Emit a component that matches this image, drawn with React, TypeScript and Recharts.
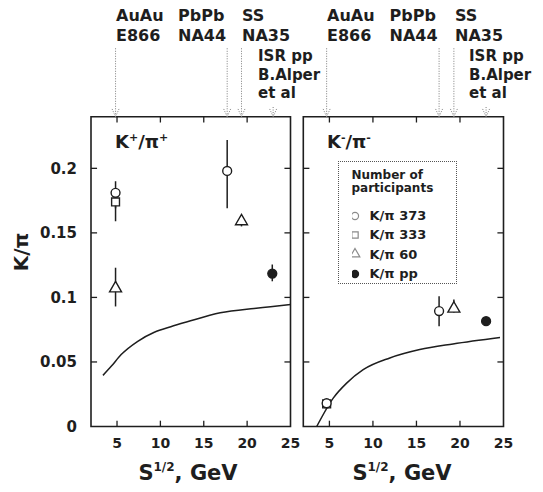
import React from 'react';
import {
  ComposedChart,
  Line,
  Scatter,
  XAxis,
  YAxis,
  ZAxis,
  ErrorBar,
  ReferenceLine,
  ReferenceArea,
  Legend,
  Symbols,
} from 'recharts';

// ---- axes ----
const X_DOMAIN: [number, number] = [2, 25];
const Y_DOMAIN: [number, number] = [0, 0.24];
const X_TICKS = [5, 10, 15, 20, 25];
const Y_TICKS = [0, 0.05, 0.1, 0.15, 0.2];

// ---- K+/pi+ measurements (x = sqrt(s) in GeV, err = [down, up]) ----
const kPlus373 = [
  { x: 4.83, y: 0.181, err: [0.012, 0.009] },
  { x: 17.7, y: 0.198, err: [0.029, 0.024] },
];
const kPlus333 = [{ x: 4.83, y: 0.174, err: [0.015, 0.008] }];
const kPlus60 = [
  { x: 4.83, y: 0.107, err: [0.014, 0.016] },
  { x: 19.35, y: 0.159, err: [0.004, 0.004] },
];
const kPlusPP = [{ x: 22.9, y: 0.1185, err: [0.006, 0.007] }];
const kPlusModel = [
  { x: 3.38, y: 0.0396 },
  { x: 4.33, y: 0.0466 },
  { x: 5.48, y: 0.0557 },
  { x: 7.39, y: 0.066 },
  { x: 9.3, y: 0.073 },
  { x: 11.2, y: 0.0773 },
  { x: 13.1, y: 0.0811 },
  { x: 16.9, y: 0.0881 },
  { x: 20.8, y: 0.0915 },
  { x: 22.7, y: 0.0928 },
  { x: 25, y: 0.0946 },
];

// ---- K-/pi- measurements ----
const kMinus373 = [
  { x: 4.68, y: 0.018, err: [0.003, 0.003] },
  { x: 17.6, y: 0.0894, err: [0.0117, 0.0116] },
];
const kMinus333 = [{ x: 4.68, y: 0.0175, err: [0.003, 0.003] }];
const kMinus60 = [{ x: 19.3, y: 0.0913, err: [0.003, 0.007] }];
const kMinusPP = [{ x: 23.0, y: 0.0816, err: [0.002, 0.002] }];
const kMinusModel = [
  { x: 3.54, y: 0.0 },
  { x: 5.44, y: 0.022 },
  { x: 6.98, y: 0.0336 },
  { x: 8.88, y: 0.044 },
  { x: 11.94, y: 0.0531 },
  { x: 15.38, y: 0.0596 },
  { x: 19.2, y: 0.064 },
  { x: 24.6, y: 0.069 },
];

// ---- experiments marked above each panel (sqrt(s) of each arrow) ----
const kPlusExperiments = [4.83, 17.7, 19.35];
const kPlusIsr = 23.0;
const kMinusExperiments = [4.68, 17.6, 19.3];
const kMinusIsr = 23.0;

const SERIES_NAMES = ['K/π 373', 'K/π 333', 'K/π 60', 'K/π pp'];

const FONT = "'DejaVu Sans', 'Liberation Sans', sans-serif";
const INK = '#1e1e1e';
const ARROW_INK = '#7d7d7d';

// arrow extents above the frame, in value units of the y scale
const ARROW_TOP = 0.293;
const ISR_ARROW_TOP = 0.2475;
const HEAD_DX = 0.4;
const HEAD_DY = 0.006;
// inner tick lengths
const TICK_DX = 0.7;
const TICK_DY = 0.0045;

type Pt = { x: number; y: number; err?: number[] };

const legendContent = (props: any) => {
  const items = (props.payload || [])
    .filter((e: any) => e.type !== 'none')
    .slice()
    .sort((a: any, b: any) => SERIES_NAMES.indexOf(a.value) - SERIES_NAMES.indexOf(b.value));
  return (
    <div
      style={{
        boxSizing: 'border-box',
        width: 119,
        height: 123,
        border: '1px dotted #555',
        background: '#fff',
        fontFamily: FONT,
        fontWeight: 'bold',
        color: INK,
        paddingTop: 7,
        paddingLeft: 13,
      }}
    >
      <div style={{ fontSize: 12, lineHeight: '13px', marginBottom: 11 }}>
        Number of
        <br />
        participants
      </div>
      {items.map((e: any) => (
        <div
          key={e.value}
          style={{ display: 'flex', alignItems: 'center', height: 19.3, fontSize: 13 }}
        >
          <svg width={17} height={14} style={{ marginRight: 1 }}>
            <Symbols
              cx={3}
              cy={7}
              type={e.type}
              size={40}
              fill={e.color}
              stroke={e.color === '#fff' ? '#8a8a8a' : e.color}
              strokeWidth={1.2}
            />
          </svg>
          <span>{e.value}</span>
        </div>
      ))}
    </div>
  );
};

function panelChart(opts: {
  width: number;
  margin: { top: number; right: number; bottom: number; left: number };
  showY: boolean;
  s373: Pt[];
  s333: Pt[];
  s60: Pt[];
  sPP: Pt[];
  model: Pt[];
  experiments: number[];
  isr: number;
  legend: boolean;
}) {
  const innerY = Y_TICKS.filter((t) => t > 0);
  const innerX = X_TICKS.filter((t) => t < X_DOMAIN[1]);
  const arrows = [
    ...opts.experiments.map((x) => ({ x, top: ARROW_TOP })),
    { x: opts.isr, top: ISR_ARROW_TOP },
  ];
  const tickStyle = { fontFamily: FONT, fontSize: 14, fontWeight: 'bold', fill: INK };
  const errProps = { dataKey: 'err', direction: 'y' as const, width: 0, stroke: INK, strokeWidth: 1.5 };

  return (
    <ComposedChart width={opts.width} height={492} margin={opts.margin}>
      <XAxis
        type="number"
        dataKey="x"
        domain={X_DOMAIN}
        ticks={X_TICKS}
        interval={0}
        allowDataOverflow
        tickLine={false}
        axisLine={false}
        tickMargin={6}
        height={30}
        tick={tickStyle}
      />
      {opts.showY ? (
        <YAxis
          type="number"
          domain={Y_DOMAIN}
          ticks={Y_TICKS}
          interval={0}
          allowDataOverflow
          tickLine={false}
          axisLine={false}
          tickMargin={8}
          width={50}
          tickFormatter={(v: number) => String(v)}
          tick={{ ...tickStyle, fontSize: 15 }}
        />
      ) : (
        <YAxis hide type="number" domain={Y_DOMAIN} allowDataOverflow />
      )}
      <ZAxis type="number" range={[62, 62]} />

      {/* plot frame */}
      <ReferenceArea
        x1={X_DOMAIN[0]}
        x2={X_DOMAIN[1]}
        y1={Y_DOMAIN[0]}
        y2={Y_DOMAIN[1]}
        fill="none"
        stroke={INK}
        strokeWidth={1.6}
        ifOverflow="visible"
      />

      {/* inward ticks on all four sides */}
      {innerX.map((t) => (
        <ReferenceLine
          key={'xb' + t}
          segment={[{ x: t, y: Y_DOMAIN[0] }, { x: t, y: Y_DOMAIN[0] + TICK_DY }]}
          stroke={INK}
          strokeWidth={1.3}
          ifOverflow="visible"
        />
      ))}
      {innerX.map((t) => (
        <ReferenceLine
          key={'xt' + t}
          segment={[{ x: t, y: Y_DOMAIN[1] }, { x: t, y: Y_DOMAIN[1] - TICK_DY }]}
          stroke={INK}
          strokeWidth={1.3}
          ifOverflow="visible"
        />
      ))}
      {innerY.map((t) => (
        <ReferenceLine
          key={'yl' + t}
          segment={[{ x: X_DOMAIN[0], y: t }, { x: X_DOMAIN[0] + TICK_DX, y: t }]}
          stroke={INK}
          strokeWidth={1.3}
          ifOverflow="visible"
        />
      ))}
      {innerY.map((t) => (
        <ReferenceLine
          key={'yr' + t}
          segment={[{ x: X_DOMAIN[1] - TICK_DX, y: t }, { x: X_DOMAIN[1], y: t }]}
          stroke={INK}
          strokeWidth={1.3}
          ifOverflow="visible"
        />
      ))}

      {/* dotted arrows pointing at each experiment's energy */}
      {arrows.map((a) => (
        <ReferenceLine
          key={'a' + a.x}
          segment={[{ x: a.x, y: a.top }, { x: a.x, y: Y_DOMAIN[1] }]}
          stroke={ARROW_INK}
          strokeWidth={1}
          strokeDasharray="1 1.5"
          ifOverflow="visible"
        />
      ))}
      {arrows.map((a) => (
        <ReferenceLine
          key={'hl' + a.x}
          segment={[{ x: a.x - HEAD_DX, y: Y_DOMAIN[1] + HEAD_DY }, { x: a.x, y: Y_DOMAIN[1] }]}
          stroke={ARROW_INK}
          strokeWidth={1}
          strokeDasharray="1 1.5"
          ifOverflow="visible"
        />
      ))}
      {arrows.map((a) => (
        <ReferenceLine
          key={'hr' + a.x}
          segment={[{ x: a.x + HEAD_DX, y: Y_DOMAIN[1] + HEAD_DY }, { x: a.x, y: Y_DOMAIN[1] }]}
          stroke={ARROW_INK}
          strokeWidth={1}
          strokeDasharray="1 1.5"
          ifOverflow="visible"
        />
      ))}

      <Line
        data={opts.model}
        dataKey="y"
        type="monotone"
        stroke={INK}
        strokeWidth={1.5}
        dot={false}
        legendType="none"
        isAnimationActive={false}
      />

      <Scatter
        name={SERIES_NAMES[1]}
        data={opts.s333}
        dataKey="y"
        shape="square"
        legendType="square"
        fill="#fff"
        stroke={INK}
        strokeWidth={1.4}
        isAnimationActive={false}
      >
        <ErrorBar {...errProps} />
      </Scatter>
      <Scatter
        name={SERIES_NAMES[0]}
        data={opts.s373}
        dataKey="y"
        shape="circle"
        legendType="circle"
        fill="#fff"
        stroke={INK}
        strokeWidth={1.4}
        isAnimationActive={false}
      >
        <ErrorBar {...errProps} />
      </Scatter>
      <Scatter
        name={SERIES_NAMES[2]}
        data={opts.s60}
        dataKey="y"
        shape="triangle"
        legendType="triangle"
        fill="#fff"
        stroke={INK}
        strokeWidth={1.4}
        isAnimationActive={false}
      >
        <ErrorBar {...errProps} />
      </Scatter>
      <Scatter
        name={SERIES_NAMES[3]}
        data={opts.sPP}
        dataKey="y"
        shape="circle"
        legendType="circle"
        fill={INK}
        stroke={INK}
        strokeWidth={1.4}
        isAnimationActive={false}
      >
        <ErrorBar {...errProps} />
      </Scatter>

      {opts.legend && (
        <Legend
          layout="vertical"
          align="center"
          verticalAlign="middle"
          content={legendContent}
          wrapperStyle={{ left: 40.5, top: 161, width: 119, height: 123 }}
        />
      )}
    </ComposedChart>
  );
}

const labelStyle = { fontFamily: FONT, fontWeight: 'bold' as const, fill: INK };

function ExperimentLabels({ xs }: { xs: [number, number, number, number] }) {
  return (
    <g style={labelStyle} fontSize={16}>
      <text x={xs[0]} y={21}>AuAu</text>
      <text x={xs[0]} y={40.5}>E866</text>
      <text x={xs[1]} y={21}>PbPb</text>
      <text x={xs[1]} y={40.5}>NA44</text>
      <text x={xs[2]} y={21}>SS</text>
      <text x={xs[2]} y={40.5}>NA35</text>
      <text x={xs[3]} y={61} fontSize={15}>ISR pp</text>
      <text x={xs[3]} y={79.5} fontSize={15}>B.Alper</text>
      <text x={xs[3]} y={97.5} fontSize={15}>et al</text>
    </g>
  );
}

export default function App() {
  return (
    <div
      style={{
        position: 'absolute',
        left: 0,
        top: 0,
        width: 543,
        height: 492,
        background: '#fff',
        overflow: 'hidden',
      }}
    >
      <div style={{ position: 'absolute', left: 0, top: 0 }}>
        {panelChart({
          width: 310,
          margin: { top: 116.7, right: 19.5, bottom: 35.5, left: 41 },
          showY: true,
          s373: kPlus373,
          s333: kPlus333,
          s60: kPlus60,
          sPP: kPlusPP,
          model: kPlusModel,
          experiments: kPlusExperiments,
          isr: kPlusIsr,
          legend: false,
        })}
      </div>
      <div style={{ position: 'absolute', left: 297, top: 0 }}>
        {panelChart({
          width: 246,
          margin: { top: 116.7, right: 39.5, bottom: 35.5, left: 6.3 },
          showY: false,
          s373: kMinus373,
          s333: kMinus333,
          s60: kMinus60,
          sPP: kMinusPP,
          model: kMinusModel,
          experiments: kMinusExperiments,
          isr: kMinusIsr,
          legend: true,
        })}
      </div>

      <svg
        width={543}
        height={492}
        style={{ position: 'absolute', left: 0, top: 0, pointerEvents: 'none' }}
      >
        <ExperimentLabels xs={[116, 178, 242, 258]} />
        <ExperimentLabels xs={[327, 389.5, 455, 469]} />

        <text x={115} y={148} fontSize={18} style={labelStyle}>
          K<tspan fontSize={11} dy={-7}>+</tspan>
          <tspan dy={7}>/π</tspan>
          <tspan fontSize={11} dy={-7}>+</tspan>
        </text>
        <text x={327} y={148} fontSize={18} style={labelStyle}>
          K<tspan fontSize={11} dy={-7}>-</tspan>
          <tspan dy={7}>/π</tspan>
          <tspan fontSize={11} dy={-7}>-</tspan>
        </text>

        <text
          transform="translate(28,252) rotate(-90)"
          textAnchor="middle"
          fontSize={20}
          style={labelStyle}
        >
          K/π
        </text>

        <text x={188} y={480} textAnchor="middle" fontSize={21} style={labelStyle}>
          S<tspan fontSize={12} dy={-9}>1/2</tspan>
          <tspan dy={9}>, GeV</tspan>
        </text>
        <text x={402} y={480} textAnchor="middle" fontSize={21} style={labelStyle}>
          S<tspan fontSize={12} dy={-9}>1/2</tspan>
          <tspan dy={9}>, GeV</tspan>
        </text>
      </svg>
    </div>
  );
}
